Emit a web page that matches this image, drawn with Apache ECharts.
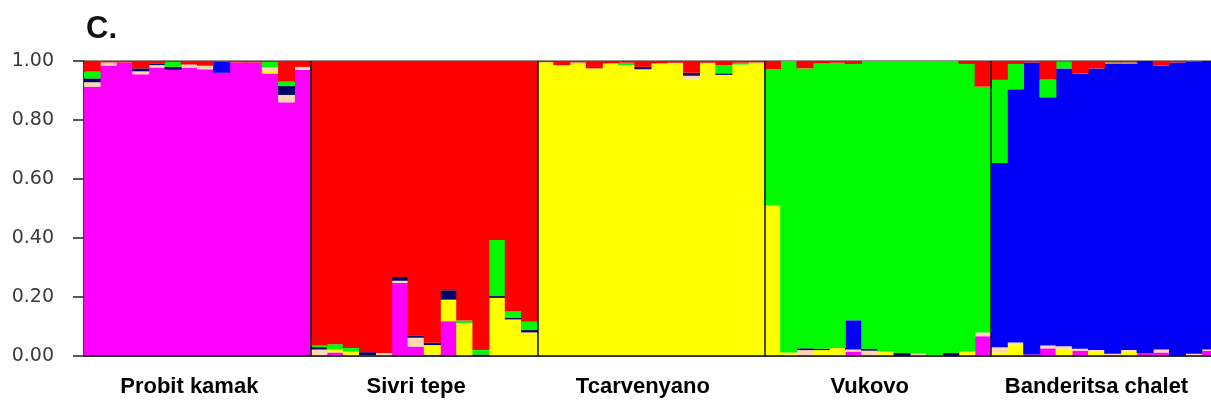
<!DOCTYPE html>
<html>
<head>
<meta charset="utf-8">
<title>STRUCTURE ancestry plot</title>
<script src="https://cdn.jsdelivr.net/npm/echarts@6/dist/echarts.min.js"></script>
<style>
  html, body { margin: 0; padding: 0; background: #ffffff; overflow: hidden; }
  #wrap { width: 1211px; height: 408px; overflow: hidden; }
  /* the plot runs slightly past the right edge of the view */
  #chart { width: 1218px; height: 408px; }
</style>
</head>
<body>
<div id="wrap"><div id="chart"></div></div>
<script>
// Populations, each with 14 sampled individuals (left to right)
const populations = ['Probit kamak', 'Sivri tepe', 'Tcarvenyano', 'Vukovo', 'Banderitsa chalet'];
const perPopulation = 14;

// Y axis tick values
const yTicks = [0, 0.2, 0.4, 0.6, 0.8, 1.0];

// Estimated membership coefficients (Q) per cluster, one value per individual.
// Order: Probit kamak (14) | Sivri tepe (14) | Tcarvenyano (14) | Vukovo (14) | Banderitsa chalet (14)
const clusterPink = [
  0.913, 0.985, 0.995, 0.955, 0.978, 0.970, 0.978, 0.972, 0.960, 0.995, 0.995, 0.958, 0.860, 0.970,
  0, 0.012, 0, 0, 0, 0.248, 0.032, 0.004, 0.118, 0, 0, 0, 0, 0,
  0, 0, 0, 0, 0, 0, 0, 0, 0, 0, 0, 0, 0, 0,
  0, 0, 0, 0, 0, 0.015, 0, 0, 0, 0, 0, 0, 0, 0.067,
  0, 0, 0.005, 0.026, 0, 0.018, 0, 0, 0, 0.010, 0.012, 0, 0, 0.018
];
const clusterYellow = [
  0, 0, 0, 0, 0, 0, 0, 0, 0, 0, 0, 0.010, 0, 0,
  0, 0.010, 0.015, 0.003, 0, 0, 0, 0.033, 0.073, 0.112, 0, 0.197, 0.124, 0.080,
  0.996, 0.986, 0.995, 0.975, 0.992, 0.986, 0.972, 0.992, 0.994, 0.940, 0.994, 0.953, 0.988, 0.995,
  0.510, 0.012, 0, 0.020, 0.027, 0, 0, 0.015, 0, 0, 0, 0, 0.015, 0,
  0.012, 0.040, 0, 0, 0.025, 0, 0.015, 0, 0.015, 0, 0, 0, 0, 0
];
const clusterPeach = [
  0.015, 0.010, 0, 0.010, 0.008, 0, 0.010, 0.012, 0, 0, 0, 0.010, 0.025, 0.010,
  0.022, 0, 0, 0, 0.010, 0.007, 0.030, 0, 0, 0, 0, 0, 0, 0,
  0, 0, 0, 0, 0, 0, 0, 0, 0, 0.010, 0, 0, 0, 0,
  0, 0, 0.020, 0, 0, 0.007, 0.018, 0, 0, 0.008, 0, 0, 0, 0.013,
  0.018, 0.006, 0, 0.010, 0.008, 0.007, 0.005, 0.008, 0.005, 0, 0.010, 0, 0.008, 0.004
];
const clusterNavy = [
  0.013, 0, 0, 0.010, 0.006, 0.010, 0, 0, 0, 0, 0, 0, 0.030, 0,
  0.008, 0, 0, 0.010, 0, 0.013, 0.008, 0.008, 0.032, 0, 0.005, 0.006, 0.006, 0.008,
  0, 0, 0, 0, 0, 0, 0.008, 0, 0, 0.010, 0, 0.005, 0, 0,
  0, 0, 0.006, 0.005, 0, 0, 0.006, 0, 0.010, 0, 0, 0.010, 0, 0,
  0, 0, 0, 0, 0, 0, 0, 0, 0, 0, 0, 0, 0, 0
];
const clusterBlue = [
  0, 0, 0, 0, 0, 0, 0, 0, 0.037, 0, 0, 0, 0, 0,
  0, 0, 0, 0, 0, 0, 0, 0, 0, 0, 0, 0, 0, 0,
  0, 0, 0, 0, 0, 0, 0, 0, 0, 0, 0, 0, 0, 0,
  0, 0, 0, 0, 0, 0.099, 0, 0, 0, 0, 0, 0, 0, 0,
  0.624, 0.858, 0.990, 0.841, 0.942, 0.933, 0.955, 0.982, 0.970, 0.990, 0.963, 0.995, 0.990, 0.978
];
const clusterGreen = [
  0.023, 0, 0, 0, 0, 0.017, 0, 0, 0, 0, 0, 0.019, 0.015, 0,
  0.006, 0.018, 0.012, 0, 0, 0, 0, 0, 0, 0.008, 0.015, 0.190, 0.022, 0.028,
  0, 0, 0, 0, 0, 0.008, 0, 0, 0, 0, 0, 0.028, 0.006, 0,
  0.462, 0.988, 0.949, 0.967, 0.967, 0.869, 0.976, 0.985, 0.990, 0.992, 1.000, 0.990, 0.975, 0.833,
  0.282, 0.086, 0, 0.060, 0.023, 0, 0, 0.005, 0.005, 0, 0, 0, 0, 0
];
const clusterRed = [
  0.036, 0.005, 0.005, 0.025, 0.008, 0.003, 0.012, 0.016, 0.003, 0.005, 0.005, 0.003, 0.070, 0.020,
  0.964, 0.960, 0.973, 0.987, 0.990, 0.732, 0.930, 0.955, 0.777, 0.880, 0.980, 0.607, 0.848, 0.884,
  0.004, 0.014, 0.005, 0.025, 0.008, 0.006, 0.020, 0.008, 0.006, 0.040, 0.006, 0.014, 0.006, 0.005,
  0.028, 0, 0.025, 0.008, 0.006, 0.010, 0, 0, 0, 0, 0, 0, 0.010, 0.087,
  0.064, 0.010, 0.005, 0.063, 0.002, 0.042, 0.025, 0.005, 0.005, 0, 0.015, 0.005, 0.002, 0
];

// Cluster stacking order (bottom to top) with their colours
const clusters = [
  { name: 'K1', data: clusterPink,   color: '#ff00ff' },
  { name: 'K2', data: clusterYellow, color: '#ffff00' },
  { name: 'K3', data: clusterPeach,  color: '#ffd6b4' },
  { name: 'K4', data: clusterNavy,   color: '#000066' },
  { name: 'K5', data: clusterBlue,   color: '#0000f6' },
  { name: 'K6', data: clusterGreen,  color: '#00fa00' },
  { name: 'K7', data: clusterRed,    color: '#ff0000' }
];

const individuals = clusterPink.map((_, i) => 'ind' + (i + 1));

const chart = echarts.init(document.getElementById('chart'), null, { renderer: 'canvas' });

chart.setOption({
  backgroundColor: '#ffffff',
  animation: false,
  graphic: [{
    type: 'text',
    left: 86,
    top: 14,
    style: {
      text: 'C.',
      font: 'bold 31px "Liberation Sans", Arial, sans-serif',
      fill: '#111111'
    }
  }],
  grid: {
    left: 84,
    top: 61,
    right: 0,
    bottom: 52,
    show: true,
    borderColor: '#3a1a1a',
    borderWidth: 1
  },
  xAxis: {
    type: 'category',
    data: individuals,
    boundaryGap: true,
    axisLine: { show: true, lineStyle: { color: '#111', width: 1.5 } },
    axisTick: { show: false },
    splitLine: {
      show: true,
      interval: (index) => index > 0 && index % perPopulation === 0,
      lineStyle: { color: '#111', width: 1.5 }
    },
    axisLabel: {
      interval: 0,
      margin: 20,
      color: '#000',
      fontFamily: '"Liberation Sans", Arial, sans-serif',
      fontWeight: 'bold',
      fontSize: 22,
      formatter: (value, index) =>
        index % perPopulation === 6 ? populations[Math.floor(index / perPopulation)] : ''
    },
    z: 10
  },
  yAxis: {
    type: 'value',
    min: yTicks[0],
    max: yTicks[yTicks.length - 1],
    interval: 0.2,
    axisLine: { show: true, lineStyle: { color: '#222', width: 1.5 } },
    axisTick: { show: true, inside: false, length: 11, lineStyle: { color: '#222', width: 1.5 } },
    splitLine: { show: false },
    axisLabel: {
      margin: 30,
      color: '#3a3a3a',
      fontFamily: '"DejaVu Sans", sans-serif',
      fontSize: 19,
      formatter: (v) => v.toFixed(2)
    }
  },
  series: clusters.map(c => ({
    name: c.name,
    type: 'bar',
    stack: 'Q',
    data: c.data,
    // slightly wider than the category band so neighbouring bars overlap
    // and no hairline seams show between individuals
    barWidth: 17,
    itemStyle: { color: c.color },
    emphasis: { disabled: true }
  }))
});
</script>
</body>
</html>
